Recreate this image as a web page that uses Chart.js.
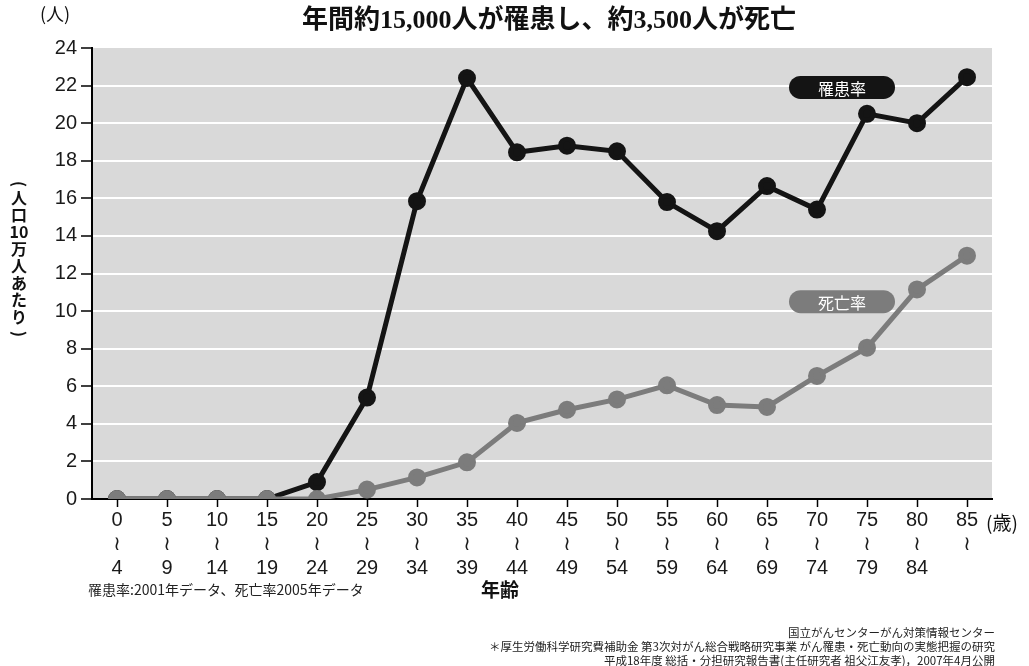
<!DOCTYPE html>
<html>
<head>
<meta charset="utf-8">
<script src="https://cdn.jsdelivr.net/npm/chart.js@4.4.1/dist/chart.umd.min.js"></script>
<style>
  html,body{margin:0;padding:0;background:#fff;}
  #wrap{width:1029px;height:666px;position:relative;}
</style>
</head>
<body>
<div id="wrap"><canvas id="chart" width="1029" height="666"></canvas></div>
<script>
const AGE_FROM = ["0","5","10","15","20","25","30","35","40","45","50","55","60","65","70","75","80","85"];
const AGE_TO   = ["4","9","14","19","24","29","34","39","44","49","54","59","64","69","74","79","84",""];

// 罹患率 / 死亡率（人口10万人あたり）
const INCIDENCE = [0,0,0,0,0.9,5.4,15.85,22.4,18.45,18.8,18.5,15.8,14.25,16.65,15.4,20.5,20.0,22.45];
const MORTALITY = [0,0,0,0,0,0.5,1.15,1.95,4.05,4.75,5.3,6.05,5.0,4.9,6.55,8.05,11.15,12.95];

const Y_MIN = 0, Y_MAX = 24, Y_STEP = 2;

const TITLE = "年間約15,000人が罹患し、約3,500人が死亡";
const NOTE_LEFT = "罹患率:2001年データ、死亡率2005年データ";
const SOURCE_LINES = [
  "国立がんセンターがん対策情報センター",
  "＊厚生労働科学研究費補助金 第3次対がん総合戦略研究事業 がん罹患・死亡動向の実態把握の研究",
  "平成18年度 総括・分担研究報告書(主任研究者 祖父江友孝)，2007年4月公開"
];

const BLACK = "#141414";
const GRAY = "#7c7c7c";
const JP = '"Noto Sans CJK JP"';

const labels = AGE_FROM.map((a,i)=>[a,"≀",AGE_TO[i]]);

/* 背景 */
const plotBg = {
  id:"plotBg",
  beforeDraw(chart){
    const {ctx,chartArea:a} = chart;
    ctx.save();
    ctx.fillStyle = "#d9d9d9";
    ctx.fillRect(a.left,a.top,a.right-a.left,a.bottom-a.top);
    ctx.restore();
  }
};

function pill(ctx,cx,cy,w,h,fill,text){
  const r=h/2, x=cx-w/2, y=cy-h/2;
  ctx.beginPath();
  ctx.moveTo(x+r,y);
  ctx.lineTo(x+w-r,y);
  ctx.arc(x+w-r,cy,r,-Math.PI/2,Math.PI/2);
  ctx.lineTo(x+r,y+h);
  ctx.arc(x+r,cy,r,Math.PI/2,Math.PI*1.5);
  ctx.closePath();
  ctx.fillStyle=fill;
  ctx.fill();
  ctx.fillStyle="#fff";
  ctx.font="16px "+JP;
  ctx.textAlign="center";
  ctx.textBaseline="middle";
  ctx.fillText(text,cx,cy+1);
}

/* 文字類 */
const texts = {
  id:"texts",
  afterDraw(chart){
    const {ctx,scales:{x,y}} = chart;
    ctx.save();
    ctx.fillStyle="#111";
    ctx.textBaseline="middle";

    // タイトル
    ctx.textAlign="center";
    ctx.font='bold 26px "Liberation Serif", '+JP;
    ctx.fillText(TITLE,549,21);

    // (人)
    ctx.textAlign="left";
    ctx.font="18px "+JP;
    ctx.fillText("(人)",40,14);

    // (歳)
    ctx.font="19px "+JP;
    ctx.fillText("(歳)",986,523);

    // 年齢
    ctx.textAlign="center";
    ctx.font="bold 19px "+JP;
    ctx.fillText("年齢",500,590);

    // 注記
    ctx.textAlign="left";
    ctx.font="14px "+JP;
    ctx.fillStyle="#222";
    ctx.fillText(NOTE_LEFT,88,590);

    ctx.textAlign="right";
    ctx.font="11.5px "+JP;
    SOURCE_LINES.forEach((s,i)=>ctx.fillText(s,995,633+i*14));

    // 縦書きラベル
    ctx.fillStyle="#111";
    ctx.textAlign="center";
    ctx.font="bold 16px "+JP;
    const vert=["(","人","口","10","万","人","あ","た","り",")"];
    let vy=184;
    vert.forEach(ch=>{
      if(ch==="("||ch===")"){
        ctx.save();
        ctx.translate(19,vy);
        ctx.rotate(Math.PI/2);
        ctx.fillText(ch,0,0);
        ctx.restore();
        vy+=14;
      }else{
        ctx.fillText(ch,19,vy);
        vy+=17;
      }
    });

    // 凡例
    const ds=chart.data.datasets;
    pill(ctx,x.getPixelForValue(14.5),y.getPixelForValue(21.9),106,23,BLACK,ds[1].label);
    pill(ctx,x.getPixelForValue(14.5),y.getPixelForValue(10.5),106,23,GRAY,ds[0].label);
    ctx.restore();
  }
};

new Chart(document.getElementById("chart"),{
  type:"line",
  data:{
    labels:labels,
    datasets:[
      {
        label:"死亡率",
        data:MORTALITY,
        borderColor:GRAY,
        backgroundColor:GRAY,
        pointBackgroundColor:GRAY,
        pointBorderColor:GRAY,
        borderWidth:5,
        pointRadius:6.5,
        tension:0,
        order:0
      },
      {
        label:"罹患率",
        data:INCIDENCE,
        borderColor:BLACK,
        backgroundColor:BLACK,
        pointBackgroundColor:BLACK,
        pointBorderColor:BLACK,
        borderWidth:5,
        pointRadius:6.5,
        tension:0,
        order:1
      }
    ]
  },
  options:{
    responsive:false,
    animation:false,
    events:[],
    layout:{padding:{left:0,right:37,top:48,bottom:87}},
    plugins:{
      legend:{display:false},
      title:{display:false},
      tooltip:{enabled:false}
    },
    scales:{
      x:{
        offset:true,
        afterFit(s){ s.height=80; },
        border:{color:"#000",width:2},
        grid:{drawOnChartArea:false,offset:false,tickColor:"#000",tickLength:8,tickWidth:1.5},
        ticks:{
          color:"#1a1a1a",
          font:{family:'"Liberation Sans", "DejaVu Sans"',size:20,lineHeight:1.18},
          maxRotation:0,
          autoSkip:false,
          padding:2
        }
      },
      y:{
        min:Y_MIN,
        max:Y_MAX,
        afterFit(s){ s.width=92; },
        border:{color:"#000",width:2},
        grid:{
          color:c=>(c.tick&&(c.tick.value===Y_MIN||c.tick.value===Y_MAX))?"rgba(0,0,0,0)":"#ffffff",
          lineWidth:2,
          tickColor:"#000",
          tickLength:11,
          tickWidth:1.5
        },
        ticks:{
          stepSize:Y_STEP,
          color:"#1a1a1a",
          font:{family:'"Liberation Sans", "DejaVu Sans"',size:20},
          padding:4
        }
      }
    }
  },
  plugins:[plotBg,texts]
});
</script>
</body>
</html>
